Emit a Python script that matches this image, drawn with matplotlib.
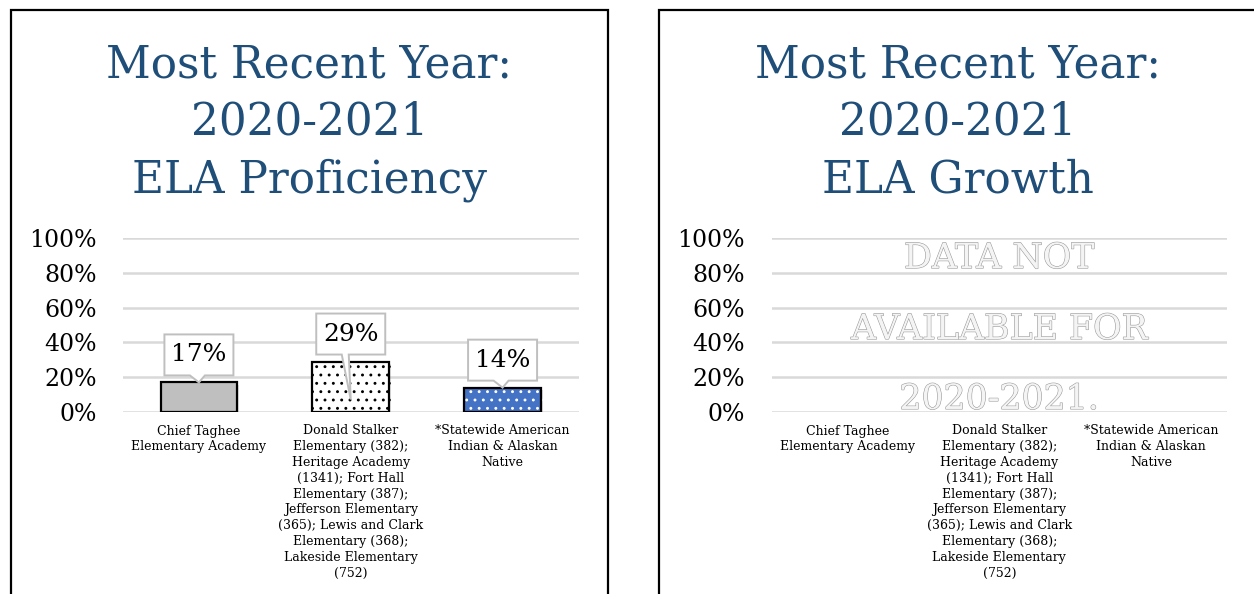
import matplotlib
matplotlib.use("Agg")
import matplotlib.pyplot as plt
import matplotlib.patheffects as pe
import matplotlib.transforms as mtransforms
from matplotlib.lines import Line2D
from matplotlib.patches import Polygon
from matplotlib.ticker import PercentFormatter

W, H = 1254, 594
DPI = 100

categories = [
    "Chief Taghee\nElementary Academy",
    "Donald Stalker\nElementary (382);\nHeritage Academy\n(1341); Fort Hall\nElementary (387);\nJefferson Elementary\n(365); Lewis and Clark\nElementary (368);\nLakeside Elementary\n(752)",
    "*Statewide American\nIndian & Alaskan\nNative",
]
proficiency = [0.17, 0.29, 0.14]
yticks = [0, 0.2, 0.4, 0.6, 0.8, 1.0]

titles = ["Most Recent Year:\n2020-2021\nELA Proficiency",
          "Most Recent Year:\n2020-2021\nELA Growth"]
no_data_lines = ["DATA NOT", "AVAILABLE FOR", "2020-2021."]

# styles
TITLE_COLOR = "#1f4e79"
GRID_COLOR = "#d9d9d9"
bar_fill = ["#bfbfbf", "white", "#4472c4"]
bar_hatch = [None, "..", ".."]
hatch_color = [None, "black", "white"]
callout_drop = [0, 38, 0]   # how far the pointer reaches below the bar top (px)

plt.rcParams["font.family"] = ["DejaVu Serif"]
plt.rcParams["hatch.linewidth"] = 0.9

fig = plt.figure(figsize=(W / DPI, H / DPI), dpi=DPI)


def px(x, y):
    return x / W, 1 - y / H


def frame(x0, x1):
    xs = [x0, x0, x1, x1]
    ys = [H + 5, 9.5, 9.5, H + 5]
    fx = [x / W for x in xs]
    fy = [1 - y / H for y in ys]
    fig.add_artist(Line2D(fx, fy, color="black", lw=1.6,
                          transform=fig.transFigure, solid_joinstyle="miter"))


def setup_axes(left_px):
    l, b = px(left_px, 412)
    ax = fig.add_axes([l, b, (1227 - 771.5) / W, 174 / H])
    ax.set_xlim(-0.5, len(categories) - 0.5)
    ax.set_ylim(0, 1)
    ax.set_yticks(yticks)
    ax.yaxis.set_major_formatter(PercentFormatter(1.0, decimals=0))
    ax.set_xticks(range(len(categories)))
    ax.set_xticklabels(categories, fontsize=9, linespacing=1.28)
    ax.tick_params(axis="x", length=0, pad=9)
    ax.tick_params(axis="y", length=0, pad=19, labelsize=17)
    for s in ax.spines.values():
        s.set_visible(False)
    ax.grid(axis="y", color=GRID_COLOR, lw=1.8)
    ax.set_axisbelow(True)
    return ax


frame(10.5, 608)
frame(659, 1265)

for cx, t in zip([309.5, 957.5], titles):
    x, y = px(cx, 43)
    fig.text(x, y, t, ha="center", va="top", fontsize=31.5,
             color=TITLE_COLOR, linespacing=1.42)

# left panel: proficiency
ax1 = setup_axes(123)
xs = range(len(categories))
shadow = [pe.SimplePatchShadow(offset=(1.5, -1.5), alpha=0.12), pe.Normal()]
for i, v in zip(xs, proficiency):
    if bar_hatch[i]:
        ax1.bar(i, v, width=0.505, color=bar_fill[i], edgecolor=hatch_color[i],
                hatch=bar_hatch[i], lw=0, path_effects=shadow)
        ax1.bar(i, v, width=0.505, fill=False, edgecolor="black", lw=1.6)
    else:
        ax1.bar(i, v, width=0.505, color=bar_fill[i], edgecolor="black",
                lw=1.6, path_effects=shadow)

# callout data labels
bw, bh, gap = 69, 41, 7
for i, v in zip(xs, proficiency):
    anchor = mtransforms.ScaledTranslation(i, v, ax1.transData)
    b0 = gap
    verts = [(-bw / 2, b0), (-9, b0), (0, -callout_drop[i]), (-2 if callout_drop[i] else 6, b0),
             (bw / 2, b0), (bw / 2, b0 + bh), (-bw / 2, b0 + bh)]
    poly = Polygon(verts, closed=True, facecolor="white", edgecolor="#bfbfbf",
                   lw=1.4, transform=mtransforms.IdentityTransform() + anchor,
                   clip_on=False, zorder=5)
    ax1.add_patch(poly)
    ax1.annotate(f"{v:.0%}", xy=(i, v), xytext=(0, (b0 + bh / 2) * 72 / DPI),
                 textcoords="offset points", ha="center", va="center",
                 fontsize=18, zorder=6)

# right panel: growth (no data)
ax2 = setup_axes(771.5)
emboss = [pe.withStroke(linewidth=0.8, foreground="#9a9a9a")]
for yy, line in zip([0.885, 0.477, 0.075], no_data_lines):
    ax2.text(0.5, yy, line, transform=ax2.transAxes, ha="center", va="center",
             fontsize=25, color="#f4f4f4", path_effects=emboss)

fig.savefig("out.png", dpi=DPI)
